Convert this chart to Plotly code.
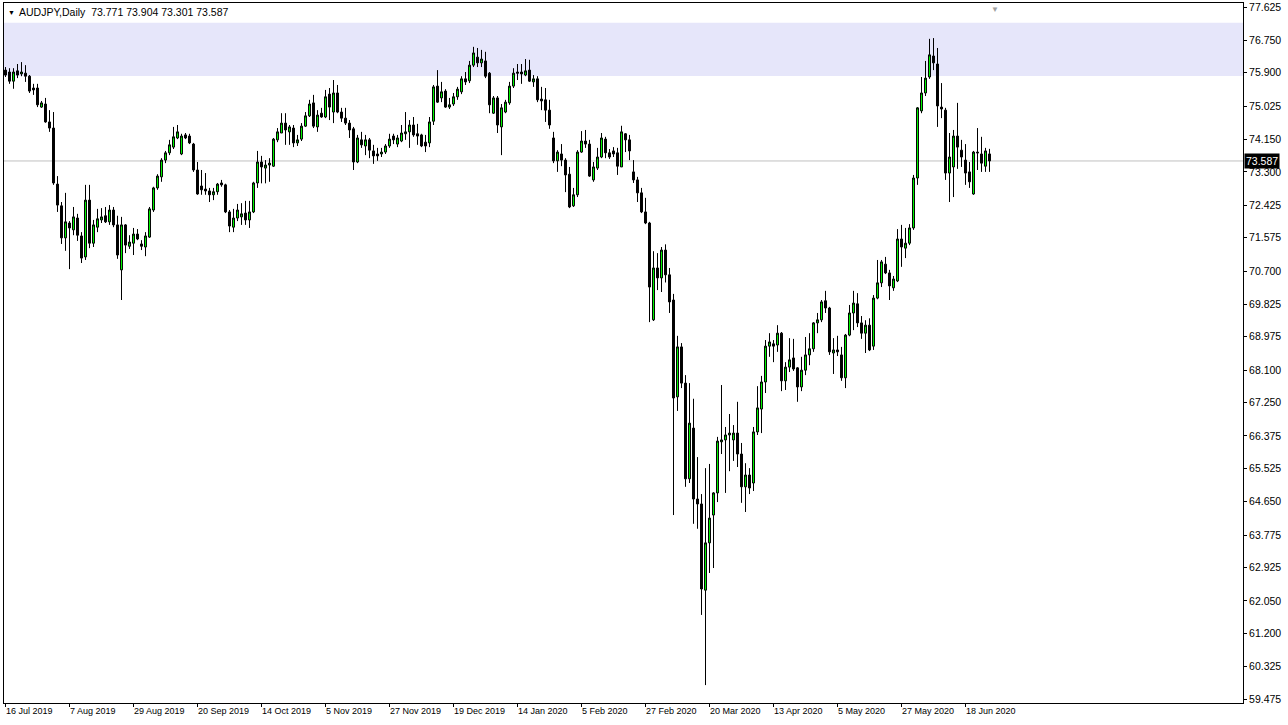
import plotly.graph_objects as go

# ---------------- data (AUDJPY daily) ----------------
open_ = [75.97,75.92,75.68,75.95,75.87,75.89,75.81,75.50,75.50,75.00,
         75.08,74.61,74.45,72.98,72.41,71.57,71.96,71.78,72.09,71.62,
         71.07,72.56,71.43,71.85,72.04,72.15,71.99,72.30,71.91,70.73,
         71.91,71.35,71.43,71.67,71.41,71.33,71.59,72.30,72.88,73.17,
         73.61,73.80,73.95,74.19,73.77,74.27,74.24,74.03,73.35,72.93,
         72.85,72.80,72.70,72.78,73.01,72.96,72.25,71.85,72.09,72.12,
         72.22,72.04,72.25,73.01,73.56,73.40,73.48,73.45,74.14,74.32,
         74.58,74.35,74.45,74.06,74.16,74.50,74.77,75.11,74.48,74.84,
         74.74,75.34,74.87,75.37,74.87,74.71,74.58,74.43,73.56,74.14,
         73.98,74.14,73.85,73.77,73.77,73.82,73.98,74.24,74.03,74.11,
         74.30,74.35,74.53,74.30,74.27,74.08,74.06,74.63,75.55,75.24,
         75.42,75.00,75.08,75.27,75.40,75.74,75.69,76.10,76.31,76.16,
         76.21,75.89,74.84,75.24,74.48,74.87,75.11,75.55,75.92,75.92,
         75.84,75.97,75.66,75.74,75.21,75.19,74.92,74.19,73.59,73.77,
         73.61,73.24,72.41,72.70,73.82,74.11,74.03,73.09,73.40,73.69,
         74.16,73.80,73.85,73.80,73.43,74.30,74.14,73.30,73.09,72.75,
         72.25,71.96,69.42,70.78,70.52,71.25,70.60,69.94,67.40,68.71,
         67.76,65.25,66.58,64.72,64.59,62.33,63.57,64.30,64.88,66.22,
         66.27,66.40,66.27,66.45,65.90,65.04,65.35,65.14,66.48,67.08,
         67.79,68.73,68.79,68.76,69.07,67.82,68.18,68.42,68.16,67.66,
         68.10,68.50,68.66,69.34,69.42,69.92,69.73,68.55,68.63,68.50,
         67.90,69.02,69.60,69.84,69.34,69.07,69.28,68.73,69.99,70.39,
         70.88,70.65,70.26,70.44,71.54,71.30,71.43,71.83,73.14,74.90,
         75.37,75.79,76.34,76.13,75.00,74.92,73.27,73.43,74.24,73.87,
         73.61,73.30,72.72,73.82,73.77,73.45,73.771]
high = [76.05,76.02,76.02,76.13,76.18,76.10,75.84,75.61,75.61,75.16,
        75.24,74.92,74.87,73.19,72.51,72.75,72.01,72.38,72.20,71.72,
        72.96,72.96,72.04,72.33,72.35,72.38,72.43,72.38,72.15,72.12,
        71.93,71.64,71.83,71.80,71.51,71.72,72.38,72.91,73.24,73.66,
        73.85,74.14,74.48,74.53,74.30,74.32,74.30,74.06,73.56,73.35,
        73.27,72.88,72.88,73.01,73.09,72.99,72.30,72.33,72.46,72.48,
        72.54,72.54,73.04,73.85,73.72,73.61,73.66,74.19,74.45,74.84,
        74.84,74.53,74.53,74.27,74.58,74.87,75.19,75.32,74.92,74.98,
        75.45,75.50,75.71,75.58,74.98,74.98,74.66,74.48,74.27,74.35,
        74.27,74.19,74.01,73.93,73.93,74.03,74.30,74.30,74.27,74.53,
        74.87,74.66,74.74,74.56,74.30,74.27,74.74,75.58,75.97,75.66,
        75.47,75.24,75.37,75.53,75.81,75.92,76.21,76.58,76.55,76.50,
        76.45,75.92,75.29,75.29,75.08,75.19,75.66,76.02,76.13,76.13,
        76.26,76.24,75.84,75.81,75.53,75.50,75.19,74.35,73.87,74.03,
        73.66,73.43,72.88,73.87,74.37,74.40,74.14,73.56,73.93,74.32,
        74.22,73.90,73.95,73.93,74.51,74.32,74.27,73.61,73.17,72.88,
        72.62,71.99,71.22,71.17,71.33,71.40,70.78,70.10,69.00,68.81,
        67.97,67.76,67.35,65.82,64.85,65.53,65.64,64.90,66.35,67.71,
        66.61,66.95,66.66,67.27,66.19,65.66,65.53,66.61,67.68,67.95,
        68.89,69.07,68.89,69.28,69.10,68.31,68.94,68.92,68.18,68.45,
        68.97,69.07,69.36,69.60,69.94,70.18,69.76,68.94,69.00,68.71,
        69.05,69.81,70.18,70.12,69.52,69.41,69.46,70.07,70.99,70.99,
        71.07,70.73,70.57,71.80,71.91,71.83,71.93,73.22,75.00,75.79,
        76.21,76.79,76.81,76.55,75.63,74.98,74.32,74.40,75.11,74.14,
        74.03,73.56,73.85,74.45,74.22,73.93,73.904]
low = [75.79,75.61,75.48,75.76,75.81,75.66,75.37,75.32,75.00,74.98,
       74.59,74.35,72.96,72.25,71.41,71.23,70.75,71.64,71.49,70.91,
       70.99,71.30,71.33,71.72,71.96,71.96,71.91,71.85,71.02,69.94,
       71.17,71.28,71.12,71.51,71.25,71.09,71.57,72.25,72.83,73.04,
       73.53,73.74,73.90,74.16,73.74,74.16,74.03,73.30,72.70,72.70,
       72.70,72.51,72.56,72.70,72.91,72.22,71.72,71.72,72.01,71.91,
       71.91,71.83,72.22,72.88,73.00,73.00,73.04,73.43,74.08,74.32,
       74.01,74.01,73.95,73.98,74.11,74.48,74.74,74.45,74.35,74.72,
       74.71,74.66,74.58,74.84,74.61,74.53,74.19,73.35,73.53,73.93,
       73.74,73.66,73.51,73.59,73.69,73.77,73.93,74.03,73.95,74.08,
       74.14,73.93,74.22,74.01,73.95,73.82,73.95,74.53,75.11,75.13,
       74.98,74.95,75.03,75.19,75.34,75.58,75.63,76.05,76.05,76.05,
       75.76,74.84,74.82,74.32,73.74,74.84,75.06,75.50,75.71,75.61,
       75.81,75.66,75.53,75.13,74.92,74.61,74.43,73.53,73.30,73.45,
       72.77,72.35,72.38,72.64,73.80,73.93,73.17,73.04,73.35,73.66,
       73.66,73.64,73.69,73.22,73.43,73.82,73.61,73.01,72.51,72.22,
       71.93,69.36,69.39,70.20,70.15,70.40,69.60,64.30,67.03,67.63,
       65.04,65.14,64.07,63.94,61.68,59.84,62.78,62.91,64.64,65.90,
       64.88,65.45,65.72,65.56,64.62,64.38,64.85,64.93,66.40,66.45,
       67.50,68.45,68.31,68.58,67.55,67.58,68.05,68.08,67.27,67.55,
       67.97,68.23,68.58,69.07,69.36,69.60,68.50,68.00,68.47,67.82,
       67.63,68.99,69.15,69.23,68.92,68.55,68.60,68.63,69.96,70.28,
       70.62,69.94,70.18,70.41,70.81,71.04,71.38,71.78,72.96,74.84,
       75.29,75.74,75.97,74.48,74.71,73.09,72.51,72.64,73.38,73.43,
       72.96,72.88,72.70,73.35,73.30,73.30,73.301]
close = [75.84,75.68,75.92,75.84,75.92,75.81,75.42,75.45,75.06,75.11,
         74.61,74.45,73.01,72.43,71.57,71.99,71.83,72.12,71.64,71.04,
         72.56,71.43,71.91,72.07,72.12,71.99,72.30,71.91,71.12,71.91,
         71.38,71.46,71.67,71.54,71.35,71.62,72.33,72.88,73.19,73.61,
         73.80,74.01,74.22,74.35,74.24,74.19,74.06,73.35,72.72,72.83,
         72.80,72.70,72.78,72.98,72.96,72.25,71.88,72.09,72.30,72.20,
         72.04,72.25,73.01,73.56,73.43,73.48,73.53,74.16,74.35,74.58,
         74.40,74.48,74.06,74.14,74.50,74.77,75.08,74.50,74.79,74.74,
         75.27,75.00,75.37,74.87,74.71,74.58,74.40,73.56,74.19,74.01,
         74.14,73.87,73.72,73.72,73.82,73.98,74.16,74.14,74.19,74.32,
         74.35,74.53,74.27,74.24,73.98,73.98,74.61,75.53,75.13,75.40,
         75.00,75.06,75.27,75.47,75.74,75.66,76.10,76.42,76.16,76.26,
         75.81,75.06,75.24,74.53,74.98,75.13,75.55,75.89,75.89,75.87,
         75.95,75.68,75.74,75.19,75.16,74.92,74.53,73.59,73.82,73.61,
         73.22,72.38,72.70,73.82,74.11,74.03,73.19,73.43,73.69,74.19,
         73.80,73.69,73.77,73.45,74.35,74.14,73.85,73.09,72.75,72.25,
         71.96,70.28,70.78,70.52,71.25,70.60,69.89,67.37,68.71,67.76,
         65.25,66.71,64.72,64.59,62.36,63.57,64.22,64.88,66.24,66.27,
         66.40,66.45,66.45,65.90,65.04,65.35,65.01,66.48,67.11,67.79,
         68.73,68.84,68.73,69.07,67.82,68.18,68.37,68.13,67.66,68.10,
         68.50,68.66,69.34,69.42,69.89,69.73,68.58,68.63,68.58,67.90,
         69.02,69.60,69.86,69.34,69.07,69.28,68.63,69.99,70.39,70.94,
         70.65,70.31,70.49,71.54,71.33,71.43,71.83,73.14,74.98,75.37,
         75.76,76.37,76.16,75.03,74.95,73.27,73.69,74.24,73.95,73.69,
         73.27,73.04,73.82,73.80,73.53,73.85,73.587]

date_labels = ["16 Jul 2019", "7 Aug 2019", "29 Aug 2019", "20 Sep 2019",
               "14 Oct 2019", "5 Nov 2019", "27 Nov 2019", "19 Dec 2019",
               "14 Jan 2020", "5 Feb 2020", "27 Feb 2020", "20 Mar 2020",
               "13 Apr 2020", "5 May 2020", "27 May 2020", "18 Jun 2020"]
date_label_step = 16  # trading days between labels

price_ticks = ["77.625", "76.750", "75.900", "75.025", "74.150", "73.300",
               "72.425", "71.575", "70.700", "69.825", "68.975", "68.100",
               "67.250", "66.375", "65.525", "64.650", "63.775", "62.925",
               "62.050", "61.200", "60.325", "59.475"]

zone = [75.815, 77.21]        # shaded resistance zone
last_price = 73.587
header = "AUDJPY,Daily  73.771 73.904 73.301 73.587"

# ---------------- figure ----------------
x = list(range(len(close)))
FONT = "Liberation Sans, Arial, sans-serif"
FS_PRICE = 10.5
FS_DATE = 9
FS_HEAD = 10.5

fig = go.Figure()
fig.add_trace(go.Candlestick(
    x=x, open=open_, high=high, low=low, close=close,
    increasing=dict(line=dict(color="black", width=1), fillcolor="#00ff00"),
    decreasing=dict(line=dict(color="black", width=1), fillcolor="black"),
    whiskerwidth=0, hoverinfo="skip", showlegend=False))

W, H = 1288, 725
L, R, T, B = 4, 45, 3, 22
fig.update_layout(
    width=W, height=H,
    margin=dict(l=L, r=R, t=T, b=B, pad=0),
    paper_bgcolor="white", plot_bgcolor="white",
    font=dict(family=FONT, size=FS_PRICE, color="black"),
    xaxis=dict(range=[-0.375, 309.375], rangeslider=dict(visible=False),
               showgrid=False, zeroline=False, showline=True, linecolor="black",
               linewidth=1, mirror=True, ticks="outside", ticklen=3, tickcolor="black",
               tickvals=[i * date_label_step for i in range(len(date_labels))],
               showticklabels=False, fixedrange=True, automargin=False),
    yaxis=dict(range=[59.37, 77.73], side="right", showgrid=False, zeroline=False,
               showline=True, linecolor="black", linewidth=1, mirror=True,
               ticks="outside", ticklen=3, tickcolor="black",
               tickvals=[float(t) for t in price_ticks], ticktext=price_ticks,
               tickfont=dict(family=FONT, size=FS_PRICE, color="black"), fixedrange=True,
               automargin=False),
    shapes=[
        dict(type="rect", xref="paper", yref="y", x0=0, x1=1, y0=zone[0], y1=zone[1],
             fillcolor="#E6E6FA", line=dict(width=0), layer="below"),
        dict(type="line", xref="paper", yref="y", x0=0, x1=1, y0=last_price, y1=last_price,
             line=dict(color="#C0C0C0", width=1), layer="below"),
    ],
)

ann = []
for i, lab in enumerate(date_labels):
    ann.append(dict(x=i * date_label_step, y=0, xref="x", yref="paper", text=lab,
                    showarrow=False, xanchor="left", yanchor="top", xshift=-2, yshift=-1,
                    font=dict(family=FONT, size=FS_DATE, color="black")))
ann.append(dict(x=1, y=last_price, xref="paper", yref="y", text=f"{last_price:.3f}",
                showarrow=False, xanchor="left", yanchor="middle", xshift=1,
                bgcolor="black", borderpad=1, font=dict(family=FONT, size=FS_PRICE, color="white")))
ann.append(dict(x=0, y=1, xref="paper", yref="paper", text="\u25bc", showarrow=False,
                xanchor="left", yanchor="top", xshift=2, yshift=-4,
                font=dict(family=FONT, size=7, color="black")))
ann.append(dict(x=0, y=1, xref="paper", yref="paper", text=header, showarrow=False,
                xanchor="left", yanchor="top", xshift=13, yshift=-1,
                font=dict(family=FONT, size=FS_HEAD, color="black")))
ann.append(dict(x=0.8, y=1, xref="paper", yref="paper", text="\u25bc", showarrow=False,
                xanchor="center", yanchor="top", yshift=0,
                font=dict(family=FONT, size=8, color="#A0A0A0")))
fig.update_layout(annotations=ann)

fig.write_html("out.html", config={"displayModeBar": False},
               post_script="document.body.style.margin='0px';document.body.style.overflow='hidden';")
